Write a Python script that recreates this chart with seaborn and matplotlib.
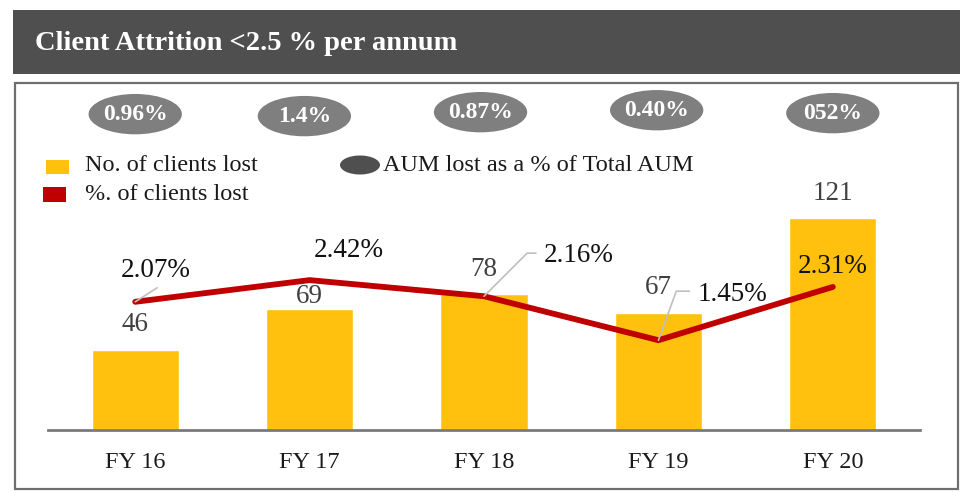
import numpy as np
import matplotlib
matplotlib.use("Agg")
import matplotlib.pyplot as plt
from matplotlib.patches import Rectangle, Ellipse
from matplotlib.transforms import blended_transform_factory
import seaborn as sns

# data
years = ["FY 16", "FY 17", "FY 18", "FY 19", "FY 20"]
clients_lost = [46, 69, 78, 67, 121]
pct_lost = [2.07, 2.42, 2.16, 1.45, 2.31]
aum_lost_labels = ["0.96%", "1.4%", "0.87%", "0.40%", "052%"]

BAR = "#FFC10E"
RED = "#C00000"
GREY = "#7F7F7F"
DARK = "#4F4F4F"

sns.set_theme(style="white")
plt.rcParams["font.family"] = ["Liberation Serif", "DejaVu Serif"]

fig = plt.figure(figsize=(9.64, 4.92), dpi=100)

# title bar and frame
fig.patches.append(Rectangle((13 / 964, 1 - 74 / 492), 947 / 964, 64 / 492, transform=fig.transFigure,
                             facecolor=DARK, edgecolor="none", zorder=0))
fig.text(35 / 964, 1 - 43 / 492, "Client Attrition <2.5 % per annum", color="white",
         fontsize=20.5, fontweight="bold", va="center", ha="left")
fig.patches.append(Rectangle((15 / 964, 1 - 489 / 492), 943 / 964, 406 / 492, transform=fig.transFigure,
                             facecolor="none", edgecolor="#6E6E6E", linewidth=1.6, zorder=0))

ax = fig.add_axes([0.0498, 0.126, 0.9046, 0.569])
x = np.arange(len(years))

sns.barplot(x=years, y=clients_lost, color=BAR, saturation=1, width=0.5, ax=ax)
ax.set_xlim(-0.5, len(years) - 0.5)
ax.set_ylim(0, 160)
ax.set_yticks([])
ax.set_ylabel("")
for s in ["top", "left", "right"]:
    ax.spines[s].set_visible(False)
ax.spines["bottom"].set_color("#7A7A7A")
ax.spines["bottom"].set_linewidth(2)
ax.tick_params(axis="x", length=0, pad=16, labelsize=17.5, colors="#1a1a1a")

# bar value labels
bar_dy = [18, 9.4, 17.3, 18, 18]
for i, v in enumerate(clients_lost):
    ax.annotate(str(v), (i, v), xytext=(0, bar_dy[i]), textcoords="offset points",
                ha="center", va="center", fontsize=19.5, color="#404040")

# line on secondary axis
ax2 = ax.twinx()
sns.lineplot(x=x, y=pct_lost, color=RED, linewidth=4.2, ax=ax2,
             solid_capstyle="round", solid_joinstyle="miter")
ax2.set_ylim(0, 4.52)
ax2.set_xlim(-0.5, len(years) - 0.5)
ax2.set_yticks([])
ax2.set_ylabel("")
for s in ["top", "left", "right", "bottom"]:
    ax2.spines[s].set_visible(False)

pct_txt = [(15, 22.3), (28, 21), (68, 29.5), (53, 33), (0, 15)]
for i, v in enumerate(pct_lost):
    ax2.annotate(f"{v:.2f}%", (i, v), xytext=pct_txt[i], textcoords="offset points",
                 ha="center", va="center", fontsize=19.5, color="#111111")

# leader lines
leaders = {0: ((15.8, 10.1), None), 2: ((37.4, 31), 45), 3: ((22.3, 35.3), 70)}
for i, (off, ang) in leaders.items():
    cs = "arc3" if ang is None else f"angle,angleA=0,angleB={ang},rad=0"
    ax2.annotate("", (i, pct_lost[i]), xytext=off, textcoords="offset points",
                 arrowprops=dict(arrowstyle="-", color="#BFBFBF", lw=1.2,
                                 shrinkA=0, shrinkB=0, connectionstyle=cs))

# AUM bubbles above the plot
tr = blended_transform_factory(ax.transData, fig.transFigure)
bub_dx = [0.0, -0.03, -0.02, -0.01, 0.0]
bub_y = [0.768, 0.764, 0.772, 0.776, 0.770]
for i, lab in enumerate(aum_lost_labels):
    ax.add_patch(Ellipse((i + bub_dx[i], bub_y[i]), 0.535, 0.082, transform=tr,
                         facecolor=GREY, edgecolor="none", clip_on=False))
    ax.text(i + bub_dx[i], bub_y[i], lab, transform=tr, ha="center", va="center",
            color="white", fontsize=17, fontweight="bold", clip_on=False)

# legend drawn by hand to follow the original layout
fig.patches.append(Rectangle((46 / 964, 1 - 174 / 492), 23 / 964, 14 / 492,
                             transform=fig.transFigure, facecolor=BAR, edgecolor="none"))
fig.text(85 / 964, 1 - 165 / 492, "No. of clients lost", fontsize=17.5, va="center", color="#1a1a1a")
fig.patches.append(Rectangle((43 / 964, 1 - 202 / 492), 23 / 964, 15 / 492,
                             transform=fig.transFigure, facecolor=RED, edgecolor="none"))
fig.text(85 / 964, 1 - 195 / 492, "%. of clients lost", fontsize=17.5, va="center", color="#1a1a1a")
fig.patches.append(Ellipse((360 / 964, 1 - 165 / 492), 40 / 964, 19 / 492,
                           transform=fig.transFigure, facecolor=DARK, edgecolor="none"))
fig.text(383 / 964, 1 - 165 / 492, "AUM lost as a % of Total AUM", fontsize=17.5, va="center",
         color="#1a1a1a")

fig.savefig("out.png", dpi=100)
plt.close(fig)
